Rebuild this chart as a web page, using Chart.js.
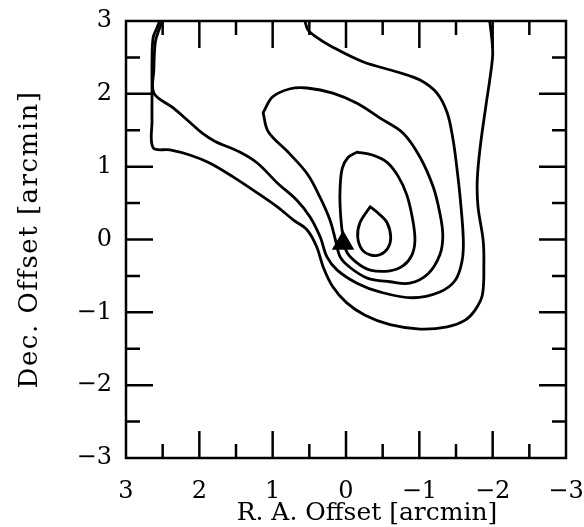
<!DOCTYPE html>
<html>
<head>
<meta charset="utf-8">
<script src="https://cdn.jsdelivr.net/npm/chart.js@4/dist/chart.umd.min.js"></script>
<style>
html,body{margin:0;padding:0;background:#fff;}
#wrap{width:584px;height:527px;position:relative;}
</style>
</head>
<body>
<div id="wrap"><canvas id="c" width="584" height="527"></canvas></div>
<script>
// Tick values and labels
const tickValues = [-3, -2, -1, 0, 1, 2, 3];
const tickLabels = ['−3', '−2', '−1', '0', '1', '2', '3'];
const xTitle = 'R. A. Offset [arcmin]';
const yTitle = 'Dec. Offset [arcmin]';

// Contour 1 (outermost)
const c1X = [2.54, 2.58, 2.63, 2.645, 2.645, 2.645, 2.63, 2.40, 2.13, 1.86, 1.54, 1.21, 0.94, 0.72, 0.53, 0.40, 0.31, 0.18, -0.01, -0.26, -0.60, -1.01, -1.38, -1.62, -1.76, -1.86, -1.88, -1.87, -1.80, -1.79, -1.83, -1.92, -1.96, -2.00, -1.99, -1.96];
const c1Y = [3.0, 2.90, 2.77, 2.47, 2.00, 1.64, 1.26, 1.23, 1.16, 1.05, 0.86, 0.64, 0.45, 0.27, 0.13, -0.10, -0.38, -0.65, -0.87, -1.04, -1.17, -1.23, -1.20, -1.11, -0.97, -0.76, -0.32, -0.01, 0.45, 0.82, 1.27, 1.92, 2.19, 2.53, 2.74, 3.0];

// Contour 3 (second outer, open to top)
const c3X = [2.50, 2.55, 2.60, 2.62, 2.62, 2.36, 2.13, 1.96, 1.79, 1.45, 1.21, 0.94, 0.67, 0.49, 0.35, 0.26, 0.12, -0.15, -0.46, -0.91, -1.28, -1.49, -1.58, -1.60, -1.56, -1.51, -1.46, -1.38, -1.24, -1.01, -0.70, -0.23, 0.18, 0.42, 0.52, 0.56];
const c3Y = [3.0, 2.88, 2.71, 2.33, 2.01, 1.81, 1.61, 1.46, 1.35, 1.20, 1.05, 0.78, 0.54, 0.31, 0.03, -0.24, -0.42, -0.60, -0.72, -0.80, -0.72, -0.56, -0.31, -0.01, 0.54, 1.00, 1.37, 1.74, 2.01, 2.19, 2.30, 2.44, 2.64, 2.79, 2.88, 3.0];

// Contour 4 (closed)
const c4X = [1.13, 1.06, 0.78, 0.52, 0.35, 0.22, 0.15, 0.08, -0.05, -0.29, -0.60, -0.87, -1.12, -1.28, -1.32, -1.28, -1.19, -1.01, -0.78, -0.46, -0.15, 0.18, 0.53, 0.76, 1.00, 1.13];
const c4Y = [1.74, 1.48, 1.19, 0.89, 0.57, 0.27, 0.02, -0.24, -0.38, -0.53, -0.58, -0.60, -0.47, -0.21, 0.06, 0.36, 0.72, 1.13, 1.46, 1.67, 1.87, 2.01, 2.08, 2.07, 1.96, 1.74];

// Contour 5 (closed)
const c5X = [-0.15, -0.36, -0.56, -0.71, -0.83, -0.91, -0.94, -0.90, -0.78, -0.60, -0.33, -0.15, -0.01, 0.05, 0.08, 0.08, 0.05, -0.03, -0.15];
const c5Y = [1.20, 1.16, 1.06, 0.87, 0.61, 0.27, -0.01, -0.21, -0.36, -0.43, -0.42, -0.32, -0.17, 0.10, 0.45, 0.72, 0.98, 1.13, 1.20];

// Contour 6 (innermost)
const c6X = [-0.33, -0.19, -0.16, -0.22, -0.33, -0.46, -0.57, -0.61, -0.56, -0.44, -0.33];
const c6Y = [0.45, 0.23, 0.03, -0.14, -0.21, -0.21, -0.12, 0.03, 0.23, 0.36, 0.45];

// Marker position
const markerX = [0.04];
const markerY = [-0.05];

const FONT = "'DejaVu Serif', 'Liberation Serif', serif";

function pts(xs, ys) { return xs.map((x, i) => ({ x: x, y: ys[i] })); }
function contour(xs, ys) {
  return {
    type: 'scatter', data: pts(xs, ys), showLine: true, tension: 0.35,
    borderColor: '#000', borderWidth: 2.8, pointRadius: 0, fill: false,
    borderCapStyle: 'round', borderJoinStyle: 'round'
  };
}

const frame = {
  id: 'frame',
  afterDatasetsDraw(chart) {
    const { ctx, chartArea: a, scales: { x, y } } = chart;
    ctx.save();
    ctx.strokeStyle = '#000';
    ctx.lineWidth = 2.5;
    ctx.strokeRect(a.left, a.top, a.right - a.left, a.bottom - a.top);
    const major = 27, minor = 14;
    const vals = tickValues.slice(1, -1);
    const mins = [];
    for (let i = 0; i < tickValues.length - 1; i++) mins.push((tickValues[i] + tickValues[i + 1]) / 2);
    ctx.beginPath();
    const add = (v, len) => {
      const px = x.getPixelForValue(v), py = y.getPixelForValue(v);
      ctx.moveTo(px, a.bottom); ctx.lineTo(px, a.bottom - len);
      ctx.moveTo(px, a.top); ctx.lineTo(px, a.top + len);
      ctx.moveTo(a.left, py); ctx.lineTo(a.left + len, py);
      ctx.moveTo(a.right, py); ctx.lineTo(a.right - len, py);
    };
    vals.forEach(v => add(v, major));
    mins.forEach(v => add(v, minor));
    ctx.stroke();
    // axis titles
    ctx.fillStyle = '#000';
    ctx.textAlign = 'center';
    ctx.textBaseline = 'middle';
    ctx.font = "25px " + FONT;
    ctx.fillText(xTitle, (a.left + a.right) / 2 + 21, a.bottom + 55);
    ctx.translate(30, (a.top + a.bottom) / 2);
    ctx.rotate(-Math.PI / 2);
    ctx.font = "26px " + FONT;
    ctx.letterSpacing = '1.5px';
    ctx.fillText(yTitle, 0, 0);
    ctx.restore();
  }
};

const tickCb = (v) => { const i = tickValues.indexOf(v); return i >= 0 ? tickLabels[i] : ''; };

new Chart(document.getElementById('c'), {
  type: 'scatter',
  data: {
    datasets: [
      contour(c1X, c1Y),
      contour(c3X, c3Y),
      contour(c4X, c4Y),
      contour(c5X, c5Y),
      contour(c6X, c6Y),
      {
        type: 'scatter', data: pts(markerX, markerY), showLine: false,
        pointStyle: 'triangle', pointRadius: 13, backgroundColor: '#000', borderColor: '#000', borderWidth: 0
      }
    ]
  },
  options: {
    responsive: false,
    animation: false,
    devicePixelRatio: 1,
    layout: { padding: { top: 21, right: 18, left: 0, bottom: 0 } },
    plugins: { legend: { display: false }, tooltip: { enabled: false } },
    scales: {
      x: {
        type: 'linear', min: -3, max: 3, reverse: true,
        grid: { display: false, drawTicks: false },
        border: { display: false },
        ticks: { stepSize: 1, callback: tickCb, color: '#000', padding: 19, font: { family: FONT, size: 24 }, maxRotation: 0 },
        afterFit: (s) => { s.height = 69; s.paddingLeft = 0; s.paddingRight = 0; }
      },
      y: {
        type: 'linear', min: -3, max: 3,
        grid: { display: false, drawTicks: false },
        border: { display: false },
        ticks: { stepSize: 1, callback: tickCb, color: '#000', padding: 14, font: { family: FONT, size: 24 } },
        afterFit: (s) => { s.width = 126; s.paddingTop = 0; s.paddingBottom = 0; }
      }
    }
  },
  plugins: [frame]
});
</script>
</body>
</html>
